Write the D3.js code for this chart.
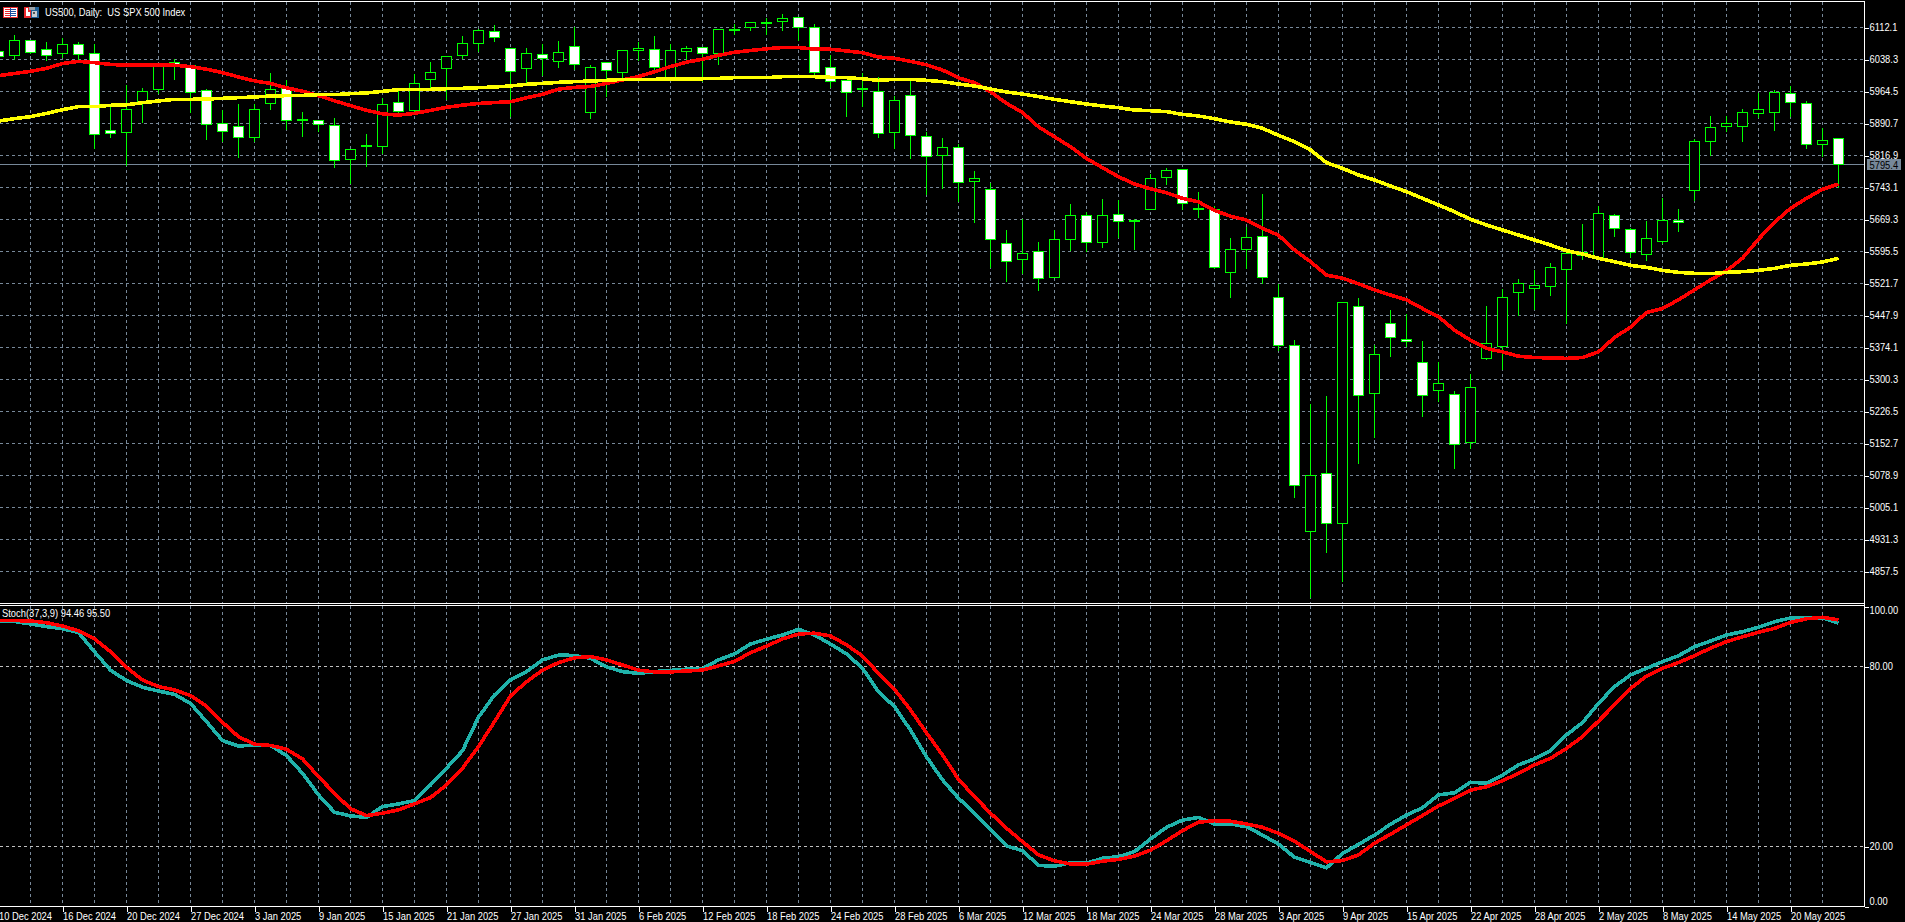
<!DOCTYPE html>
<html>
<head>
<meta charset="utf-8">
<title>US500, Daily</title>
<script src="https://cdnjs.cloudflare.com/ajax/libs/d3/7.8.5/d3.min.js"></script>
<style>
html,body{margin:0;padding:0;background:#000;overflow:hidden}
svg{display:block}
text{font-family:"Liberation Sans",Arial,sans-serif;font-size:11px;fill:#fff;white-space:pre}
</style>
</head>
<body>
<svg id="chart" width="1905" height="922"></svg>
<script>
const opens = [
6056,6048,6082,6061,6053,6073,6052,5874,5870,5942,
5970,6031,6024,5966,5890,5883,5859,5937,5971,5898,
5897,5887,5808,5838,5838,5939,5921,5993,6018,6048,
6076,6103,6063,6018,6049,6034,6068,5916,6031,6009,
6058,6061,5997,6057,6066,6053,6106,6113,6122,6126,
6136,6112,6019,5989,5970,5964,5870,5955,5860,5817,
5835,5757,5738,5614,5577,5595,5536,5624,5678,5617,
5680,5665,5693,5767,5784,5693,5692,5547,5601,5630,
5490,5378,4950,5084,4969,5468,5268,5430,5393,5339,
5275,5265,5155,5349,5376,5501,5511,5514,5554,5586,
5582,5678,5647,5589,5619,5667,5737,5850,5883,5883,
5914,5916,5960,5937,5843,5857];
const highs = [
6060,6097,6083,6080,6089,6079,6076,5930,5980,5974,
6030,6041,6026,5972,5923,5936,5937,6009,5993,5919,
5898,5905,5832,5868,5951,5968,6005,6033,6046,6093,
6110,6120,6064,6066,6076,6081,6114,6027,6032,6060,
6079,6094,6076,6071,6066,6110,6122,6124,6136,6145,
6136,6122,6050,5990,6009,6000,5955,5991,5873,5859,
5845,5783,5755,5647,5672,5618,5647,5707,5687,5718,
5716,5672,5776,5790,5785,5733,5701,5628,5653,5730,
5522,5393,5245,5264,5480,5490,5380,5462,5453,5391,
5341,5275,5313,5470,5511,5534,5553,5571,5595,5659,
5701,5684,5651,5668,5720,5695,5857,5910,5910,5926,
5963,5970,5979,5943,5882,5857];
const lows = [
6041,6039,6052,6035,6043,6037,5832,5858,5793,5894,
5960,5993,5916,5853,5849,5812,5849,5922,5876,5860,
5873,5789,5753,5791,5822,5917,5914,5972,5946,6041,
6056,6079,5906,5983,6001,6019,6016,5902,5954,5987,
6037,6010,5995,6033,5987,6026,6095,6106,6095,6106,
6081,6003,5973,5906,5930,5858,5832,5810,5726,5740,
5710,5662,5559,5527,5544,5505,5535,5597,5595,5604,
5627,5599,5692,5751,5693,5674,5557,5489,5556,5522,
5368,5029,4797,4901,4834,5107,5166,5353,5376,5215,
5249,5095,5141,5347,5324,5449,5462,5494,5430,5576,
5580,5631,5582,5574,5614,5641,5712,5817,5872,5849,
5904,5874,5906,5833,5814,5743];
const closes = [
6045,6082,6055,6048,6073,6050,5865,5868,5923,5964,
6029,6026,5963,5889,5873,5859,5923,5970,5898,5900,
5889,5806,5831,5840,5934,5919,5983,6008,6046,6075,
6106,6089,6011,6052,6040,6055,6027,6019,6013,6059,
6064,6020,6059,6063,6053,6108,6108,6123,6123,6133,
6113,6009,5988,5963,5971,5868,5943,5863,5815,5835,
5755,5763,5624,5573,5591,5534,5624,5678,5617,5678,
5665,5668,5763,5782,5707,5695,5559,5600,5627,5536,
5378,5056,5079,4969,5478,5264,5358,5398,5388,5264,
5291,5151,5282,5384,5490,5521,5518,5559,5591,5594,
5684,5649,5594,5625,5667,5663,5850,5882,5890,5916,
5923,5963,5940,5843,5852,5795.4];
const maFast = [
6001,6006,6011,6018,6029,6034,6031,6027,6025,6025,
6025,6025,6022,6016,6008,5998,5989,5983,5973,5965,
5955,5943,5932,5921,5913,5910,5914,5921,5928,5933,
5937,5939,5941,5950,5958,5970,5974,5976,5983,5991,
5999,6010,6022,6032,6039,6048,6055,6059,6063,6066,
6066,6062,6062,6058,6054,6044,6041,6034,6026,6014,
5996,5985,5964,5937,5916,5883,5860,5837,5810,5789,
5768,5751,5740,5731,5718,5710,5690,5677,5668,5649,
5633,5599,5572,5541,5534,5521,5507,5495,5484,5464,
5445,5414,5391,5372,5364,5354,5351,5350,5349,5351,
5364,5397,5421,5455,5464,5484,5507,5530,5551,5580,
5624,5663,5695,5718,5739,5751];
const maSlow = [
5896.4,5901.8,5906.4,5914,5922.6,5929.5,5929.5,5932.6,5934,5938.7,
5942.6,5946.4,5946.4,5947.2,5948.7,5950.3,5951.8,5954.1,5954.9,5955.6,
5957.2,5957.2,5959.5,5961,5964.9,5968.7,5969.5,5969.5,5971,5971.8,
5973.3,5974.9,5977.2,5981,5983.3,5985.6,5987.2,5988.7,5990.2,5992.5,
5992.5,5992.5,5994,5994,5994,5994.8,5996.4,5996.4,5996.4,5998.7,
5998.7,5998.7,5997.2,5996.4,5994,5990.2,5992.5,5992.5,5990.2,5987.2,
5981.8,5977.2,5970.2,5963.3,5958.7,5952.6,5946.4,5941,5935.6,5931,
5927.2,5921.8,5920.3,5918,5911.8,5908,5901.8,5894.1,5888.8,5879.5,
5863.4,5848.8,5829.6,5800.4,5787.3,5771.9,5760.4,5746.5,5733.5,5718.1,
5702.7,5687.3,5669.7,5656.6,5645.1,5633.5,5622,5610.5,5597.4,5589.7,
5579.7,5572,5563.6,5559,5552,5547.4,5545.1,5544.4,5547.4,5549,
5552,5556.6,5563.6,5566.6,5571.3,5579.7];
const stochK = [
95.3,95.0,94.2,93.3,92.6,91.3,84.9,78.8,75.3,73.1,
71.8,70.7,67.7,61.6,55.3,53.5,53.8,53.7,50.3,44.4,
37.2,31.4,30.2,29.7,33.3,34.2,35.3,40.5,46.1,51.9,
63.1,70.5,75.5,78.3,82.2,83.8,83.7,82.7,79.9,78.3,
77.7,78.3,78.7,79.1,79.3,82.2,84.2,87.5,89.1,90.5,
92.4,90.5,87.5,84.2,79.4,71.6,66.6,58.8,49.9,42.2,
36.1,31.1,25.7,20.2,18.6,13.7,13.4,14.6,14.4,16.1,
16.6,18.3,22.5,26.4,28.8,29.7,27.5,27.5,26.6,23.8,
20.8,16.4,14.7,12.9,17.7,20.7,23.8,27.4,30.5,32.9,
37.2,37.9,41.4,41.1,43.8,47.2,49.2,51.9,57.2,61.3,
67.7,73.3,77.2,79.4,81.6,83.6,86.6,88.5,90.5,91.6,
93.1,94.9,96.2,96.4,96.2,94.46];
const stochD = [
95.3,95.3,95.2,94.6,93.5,91.9,89.2,84.9,79.7,75.5,
73.3,72.2,70.3,66.8,61.4,56.6,54.1,53.7,52.4,49.2,
43.3,37.7,32.6,30.3,31.1,32.2,34.2,36.3,40.5,46.1,
53.3,61.6,70.2,74.9,78.8,81.3,82.9,83.3,82.2,80.5,
78.8,78.2,78.2,78.5,78.8,80.2,81.7,84.6,86.8,89.2,
90.8,91.1,90.2,87.2,83.5,77.7,72.4,65.5,57.9,50.5,
42.4,36.6,31.1,26.1,21.6,17.2,15.2,14.2,14.1,15.1,
15.7,16.8,18.8,21.9,25.3,28.1,28.6,28.4,27.5,26.4,
24.4,21.8,18.3,14.9,15.3,17.2,21.1,24.1,27.2,30.3,
33.5,36.1,38.8,39.9,41.9,44.4,47.2,49.4,52.7,56.6,
61.8,67.2,72.7,76.8,79.4,81.3,83.6,86.1,88.3,89.9,
91.4,92.7,94.7,95.9,96.4,95.5];
const dateLabels = ["10 Dec 2024","16 Dec 2024","20 Dec 2024","27 Dec 2024","3 Jan 2025","9 Jan 2025","15 Jan 2025","21 Jan 2025","27 Jan 2025","31 Jan 2025","6 Feb 2025","12 Feb 2025","18 Feb 2025","24 Feb 2025","28 Feb 2025","6 Mar 2025","12 Mar 2025","18 Mar 2025","24 Mar 2025","28 Mar 2025","3 Apr 2025","9 Apr 2025","15 Apr 2025","22 Apr 2025","28 Apr 2025","2 May 2025","8 May 2025","14 May 2025","20 May 2025"];
const priceTicks = [6112.1,6038.3,5964.5,5890.7,5816.9,5743.1,5669.3,5595.5,5521.7,5447.9,5374.1,5300.3,5226.5,5152.7,5078.9,5005.1,4931.3,4857.5];
const stochTicks = [100,80,20,0];
const stochLevels = [80,20];
const lastPrice = 5795.4;
const titleText = "US500, Daily:  US SPX 500 Index";
const stochText = "Stoch(37,3,9) 94.46 95.50";

const W = 1905, H = 922, axisX = 1864.5;
const FONT = '"Liberation Sans",Arial,sans-serif';
const LIME = "#00ff00", GRID = "#778899", LEVEL = "#c0c0c0", TEAL = "#20b2aa";
const svg = d3.select("#chart");

const defs = svg.append("defs");
defs.append("clipPath").attr("id","mainClip").append("rect").attr("x",0).attr("y",2).attr("width",1864).attr("height",601);
defs.append("clipPath").attr("id","subClip").append("rect").attr("x",0).attr("y",606).attr("width",1864).attr("height",300);

const idx = d3.range(opens.length);
const x = d3.scaleLinear().domain([0,115]).range([-1.5,1838.5]);
const y = d3.scaleLinear().domain([6112.1,4857.5]).range([27.5,571.5]);
const ys = d3.scaleLinear().domain([100,0]).range([606.5,906.5]);
const snap = v => Math.round(v-0.5)+0.5;

// grid
const gridX = idx.filter(i=>i%2===0);
const grid = svg.append("g").attr("shape-rendering","crispEdges").attr("stroke-dasharray","3,3").attr("fill","none");
grid.selectAll("line.vm").data(gridX).join("line").attr("class","vm").attr("x1",x).attr("x2",x).attr("y1",2).attr("y2",603).attr("stroke",GRID);
grid.selectAll("line.vs").data(gridX).join("line").attr("class","vs").attr("x1",x).attr("x2",x).attr("y1",606).attr("y2",906).attr("stroke",GRID);
grid.selectAll("line.h").data(priceTicks).join("line").attr("class","h").attr("x1",0).attr("x2",axisX).attr("y1",d=>snap(y(d))).attr("y2",d=>snap(y(d))).attr("stroke",GRID);
grid.selectAll("line.l").data(stochLevels).join("line").attr("class","l").attr("x1",0).attr("x2",axisX).attr("y1",d=>snap(ys(d))).attr("y2",d=>snap(ys(d))).attr("stroke",LEVEL);

// last price line
svg.append("line").attr("x1",0).attr("x2",axisX).attr("y1",snap(y(lastPrice))).attr("y2",snap(y(lastPrice))).attr("stroke",GRID).attr("shape-rendering","crispEdges");

// candles
const main = svg.append("g").attr("clip-path","url(#mainClip)");
const c = main.append("g").attr("shape-rendering","crispEdges");
c.selectAll("line").data(idx).join("line")
  .attr("x1",x).attr("x2",x)
  .attr("y1",i=>snap(y(highs[i]))).attr("y2",i=>snap(y(lows[i])))
  .attr("stroke",LIME);
c.selectAll("rect").data(idx).join("rect")
  .attr("x",i=>x(i)-5).attr("width",10)
  .attr("y",i=>snap(y(Math.max(opens[i],closes[i]))))
  .attr("height",i=>Math.max(1,snap(y(Math.min(opens[i],closes[i])))-snap(y(Math.max(opens[i],closes[i])))))
  .attr("fill",i=>closes[i]<opens[i]?"#fff":"#000")
  .attr("stroke",LIME);

// moving averages and stochastic lines
const lineOf = (arr,sc)=>d3.line().x((d,i)=>x(i)).y(d=>sc(d))(arr);
const drawLine = (g,arr,sc,col)=>g.append("path").attr("d",lineOf(arr,sc)).attr("fill","none").attr("stroke",col).attr("stroke-width",3.6).attr("stroke-linejoin","round").attr("shape-rendering","crispEdges");
drawLine(main,maFast,y,"#ff0000");
drawLine(main,maSlow,y,"#ffff00");
const sub = svg.append("g").attr("clip-path","url(#subClip)");
drawLine(sub,stochK,ys,TEAL);
drawLine(sub,stochD,ys,"#ff0000");

// frame
const frame = svg.append("g").attr("stroke","#fff").attr("shape-rendering","crispEdges");
[[0,1.5,axisX,1.5],[0,603.5,axisX,603.5],[0,605.5,axisX,605.5],[0,906.5,axisX,906.5],[axisX,1,axisX,907]].forEach(s=>{
  frame.append("line").attr("x1",s[0]).attr("y1",s[1]).attr("x2",s[2]).attr("y2",s[3]);
});

// axes
function style(g){
  g.select(".domain").remove();
  g.selectAll("line").attr("stroke","#fff").attr("shape-rendering","crispEdges");
  g.selectAll("text").attr("fill","#fff").style("font-family",FONT).style("font-size","11px");
}
const pa = svg.append("g").attr("transform",`translate(${axisX},0)`)
  .call(d3.axisRight(y).tickValues(priceTicks).tickFormat(d3.format(".1f")).tickSize(4).tickPadding(1))
  .call(style);
pa.selectAll("text").attr("dy","0.23em");
const sa = svg.append("g").attr("transform",`translate(${axisX},0)`)
  .call(d3.axisRight(ys).tickValues(stochTicks).tickFormat(d3.format(".2f")).tickSize(4).tickPadding(1))
  .call(style);
sa.selectAll("text").attr("dy",d=>d===100?"0.6em":d===0?"-0.15em":"0.23em");
const ba = svg.append("g").attr("transform","translate(0,906.5)")
  .call(d3.axisBottom(x).tickValues(dateLabels.map((d,k)=>k*4)).tickFormat((d,k)=>dateLabels[k]).tickSize(5).tickPadding(1))
  .call(style);
ba.selectAll("text").attr("text-anchor","start").attr("x",0);

// last price box
const lb = svg.append("g");
lb.append("rect").attr("x",1867).attr("y",159).attr("width",34).attr("height",11).attr("fill",GRID);
lb.append("text").attr("x",1869.5).attr("y",168.5).text(d3.format(".1f")(lastPrice)).style("fill","#000");

// title
svg.append("text").attr("x",45).attr("y",16).text(titleText);
svg.append("text").attr("x",2).attr("y",617).text(stochText);

// the platform's font is narrower than any installed one: squeeze the glyphs
svg.selectAll("text").each(function(){
  const len = this.getComputedTextLength();
  d3.select(this).attr("textLength",(len*0.85).toFixed(1)).attr("lengthAdjust","spacingAndGlyphs");
});

// title icons
const ic = svg.append("g").attr("shape-rendering","crispEdges");
const r = (a,b,w,h,f)=>ic.append("rect").attr("x",a).attr("y",b).attr("width",w).attr("height",h).attr("fill",f);
r(3,7,15,11,"#e8282c"); r(4,8,13,9,"#fff");
r(5,9,5,1,"#e8282c"); r(5,11,5,1,"#e8282c"); r(5,13,5,1,"#e8282c"); r(5,15,5,1,"#e8282c");
r(10,8,1,9,"#1f4fa0"); r(11,9,5,1,"#1f4fa0"); r(11,11,5,1,"#1f4fa0"); r(11,13,5,1,"#1f4fa0"); r(11,15,5,1,"#1f4fa0");
r(24,7,7,11,"#e8282c"); r(26,8,2,8,"#fff"); r(28,12,2,4,"#fff");
r(31,7,8,11,"#1f5f95"); r(29,7,6,3,"#9aa0a6"); r(32,11,5,6,"#c8ccd0"); r(33,12,2,2,"#555");
</script>
</body>
</html>
